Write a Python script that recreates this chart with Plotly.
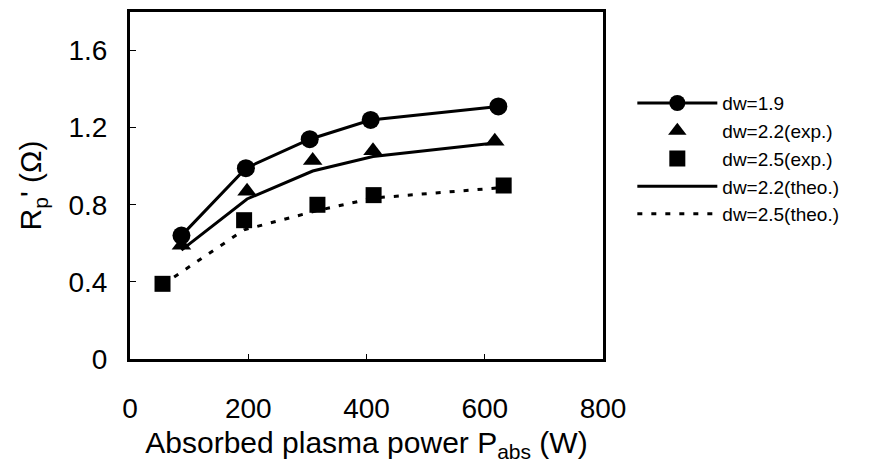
import plotly.graph_objects as go

# Data
x_d19 = [87, 196, 304, 407, 623]
y_d19 = [0.64, 0.99, 1.14, 1.24, 1.31]

x_d22_exp = [87, 198, 309, 411, 617]
y_d22_exp = [0.59, 0.87, 1.03, 1.08, 1.13]

x_d25_exp = [55, 193, 317, 412, 632]
y_d25_exp = [0.39, 0.72, 0.80, 0.85, 0.90]

x_d22_theo = [87, 198, 309, 411, 617]
y_d22_theo = [0.565, 0.83, 0.975, 1.05, 1.12]

x_d25_theo = [55, 193, 317, 412, 632]
y_d25_theo = [0.385, 0.67, 0.77, 0.835, 0.89]

x_ticks = [0, 200, 400, 600, 800]
y_ticks = [0, 0.4, 0.8, 1.2, 1.6]

FONT = "Liberation Sans, Arial, sans-serif"
BLACK = "#000000"

fig = go.Figure()
fig.add_trace(go.Scatter(
    x=x_d19, y=y_d19, mode="lines+markers", name="dw=1.9",
    line=dict(color=BLACK, width=3),
    marker=dict(symbol="circle", size=18, color=BLACK)))
fig.add_trace(go.Scatter(
    x=x_d22_exp, y=y_d22_exp, mode="markers", name="dw=2.2(exp.)",
    marker=dict(symbol="triangle-up", size=17, color=BLACK)))
fig.add_trace(go.Scatter(
    x=x_d25_exp, y=y_d25_exp, mode="markers", name="dw=2.5(exp.)",
    marker=dict(symbol="square", size=16, color=BLACK)))
fig.add_trace(go.Scatter(
    x=x_d22_theo, y=y_d22_theo, mode="lines", name="dw=2.2(theo.)",
    line=dict(color=BLACK, width=3)))
fig.add_trace(go.Scatter(
    x=x_d25_theo, y=y_d25_theo, mode="lines", name="dw=2.5(theo.)",
    line=dict(color=BLACK, width=3, dash="5px,9px")))

# page body has an 8px margin, so the figure is sized/placed to compensate
fig.update_layout(
    width=863, height=464,
    margin=dict(l=122, r=268, t=1, b=113),
    paper_bgcolor="white", plot_bgcolor="white",
    font=dict(family=FONT, color=BLACK, size=28),
    showlegend=True,
    legend=dict(
        x=1.062, y=0.792, xanchor="left", yanchor="top",
        font=dict(family=FONT, size=19, color=BLACK),
        itemwidth=80, bgcolor="rgba(0,0,0,0)", tracegroupgap=0),
)
fig.update_xaxes(
    range=[0, 800], tickvals=x_ticks, ticktext=[str(v) for v in x_ticks],
    showgrid=False, zeroline=False,
    showline=True, linecolor=BLACK, linewidth=3, mirror=True,
    ticks="inside", ticklen=5, tickcolor=BLACK, tickwidth=1,
    ticklabelstandoff=22,
    tickfont=dict(family=FONT, size=28, color=BLACK),
    title=dict(text="Absorbed plasma power P<sub>abs</sub> (W)",
               font=dict(family=FONT, size=30, color=BLACK), standoff=10),
)
fig.update_yaxes(
    range=[0, 1.8], tickvals=y_ticks, ticktext=["0", "0.4", "0.8", "1.2", "1.6"],
    showgrid=False, zeroline=False,
    showline=True, linecolor=BLACK, linewidth=3, mirror=True,
    ticks="inside", ticklen=6, tickcolor=BLACK, tickwidth=1,
    ticklabelstandoff=14,
    tickfont=dict(family=FONT, size=28, color=BLACK),
    title=dict(text="R<sub>p</sub>' (Ω)",
               font=dict(family=FONT, size=30, color=BLACK), standoff=18),
)

fig.write_html("out.html")
